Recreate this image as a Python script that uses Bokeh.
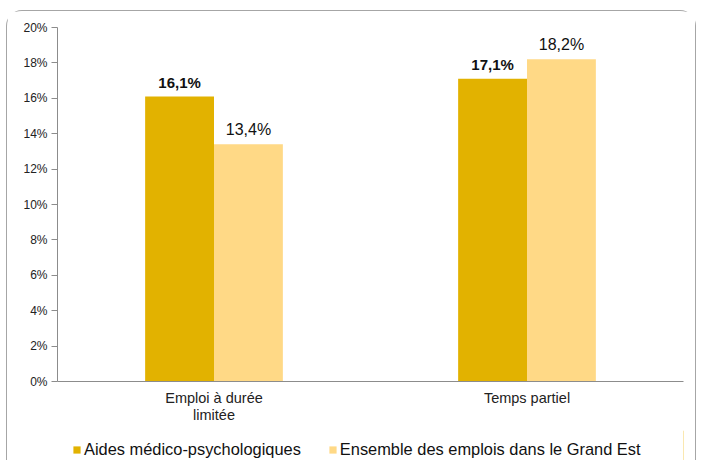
from bokeh.plotting import figure
from bokeh.layouts import column, row
from bokeh.models import (ColumnDataSource, FactorRange, Range1d, FixedTicker, Legend,
                          LegendItem, LabelSet, Spacer)
from bokeh.transform import dodge
from bokeh.core.properties import value
from bokeh.embed import file_html
from bokeh.resources import INLINE

categories = ["Emploi à durée\nlimitée", "Temps partiel"]
series_names = ["Aides médico-psychologiques", "Ensemble des emplois dans le Grand Est"]
aides = [16.1, 17.1]
ensemble = [13.4, 18.2]
aides_labels = ["16,1%", "17,1%"]
ensemble_labels = ["13,4%", "18,2%"]
y_ticks = [0, 2, 4, 6, 8, 10, 12, 14, 16, 18, 20]
y_tick_labels = {t: f"{t}%" for t in y_ticks}

colors = ["#E2B200", "#FFD986"]
FONT = "Liberation Sans"
BORDER = "1.5px solid #a6a6a6"

src = ColumnDataSource(dict(cat=categories, aides=aides, ensemble=ensemble,
                            al=aides_labels, el=ensemble_labels))

p = figure(x_range=FactorRange(*categories), y_range=Range1d(0, 20),
           width=690, height=420, output_backend="svg", toolbar_location=None,
           min_border_left=50, min_border_right=14, min_border_top=16, min_border_bottom=50)
p.styles = {"border-top": BORDER, "border-left": BORDER, "border-right": BORDER,
            "border-radius": "16px 16px 0 0"}
p.outline_line_color = None
p.xgrid.grid_line_color = None
p.ygrid.grid_line_color = None
p.background_fill_color = "white"
p.border_fill_color = "white"

bw = 0.22
r1 = p.vbar(x=dodge("cat", -bw / 2, range=p.x_range), top="aides", width=bw, source=src,
            fill_color=colors[0], line_color=None)
r2 = p.vbar(x=dodge("cat", bw / 2, range=p.x_range), top="ensemble", width=bw, source=src,
            fill_color=colors[1], line_color=None)

l1 = LabelSet(x=dodge("cat", -bw / 2, range=p.x_range), y="aides", text="al", source=src,
              text_align="center", text_baseline="bottom", y_offset=6,
              text_font=value(FONT), text_font_size="15px", text_font_style="bold",
              text_color="#111111")
l2 = LabelSet(x=dodge("cat", bw / 2, range=p.x_range), y="ensemble", text="el", source=src,
              text_align="center", text_baseline="bottom", y_offset=6,
              text_font=value(FONT), text_font_size="16px", text_color="#111111")
p.add_layout(l1)
p.add_layout(l2)

# y axis
p.yaxis.ticker = FixedTicker(ticks=y_ticks)
p.yaxis.major_label_overrides = y_tick_labels
p.yaxis.axis_line_color = "#8c8c8c"
p.yaxis.major_tick_line_color = "#8c8c8c"
p.yaxis.major_tick_out = 6
p.yaxis.major_tick_in = 0
p.yaxis.minor_tick_line_color = None
p.yaxis.major_label_text_font = FONT
p.yaxis.major_label_text_font_size = "12px"
p.yaxis.major_label_text_color = "#222222"
p.yaxis.major_label_standoff = 4

# x axis
p.xaxis.axis_line_color = "#8c8c8c"
p.xaxis.major_tick_line_color = None
p.xaxis.minor_tick_line_color = None
p.xaxis.major_label_text_font = FONT
p.xaxis.major_label_text_font_size = "14.5px"
p.xaxis.major_label_text_color = "#222222"
p.xaxis.major_label_text_line_height = 1.1
p.xaxis.major_label_standoff = 2

# legend strip (swatches drawn off-view so only the legend shows)
leg = figure(width=690, height=30, output_backend="svg", toolbar_location=None,
             min_border_left=50, min_border_right=14, min_border_top=0, min_border_bottom=0,
             x_range=Range1d(0, 1), y_range=Range1d(0, 1))
leg.styles = {"border-left": BORDER, "border-right": BORDER}
leg.axis.visible = False
leg.grid.grid_line_color = None
leg.outline_line_color = None
leg.background_fill_color = "white"
leg.border_fill_color = "white"
lr1 = leg.vbar(x=[5], top=[5], width=0.1, fill_color=colors[0], line_color=None)
lr2 = leg.vbar(x=[5], top=[5], width=0.1, fill_color=colors[1], line_color=None)
legend = Legend(items=[LegendItem(label=series_names[0], renderers=[lr1]),
                       LegendItem(label=series_names[1], renderers=[lr2])],
                location=(15, 1), orientation="horizontal",
                padding=0, margin=0, spacing=27, label_standoff=3,
                glyph_width=9, glyph_height=9, label_height=20,
                border_line_color=None, background_fill_alpha=0,
                label_text_font=FONT, label_text_font_size="16.4px",
                label_text_color="#111111")
leg.add_layout(legend, "center")

inner = column(p, leg, spacing=0)
page = row(Spacer(width=6), column(Spacer(height=10), inner, spacing=0), spacing=0)

open("out.html", "w").write(file_html(page, INLINE))
